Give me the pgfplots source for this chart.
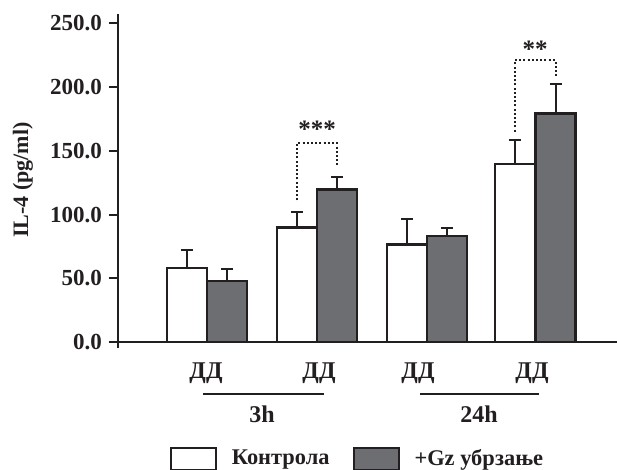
\documentclass[border=0pt]{standalone}
\usepackage{fontspec}
\setmainfont{Liberation Serif}
\usepackage{pgfplots}
\pgfplotsset{compat=1.18}
\definecolor{barblack}{RGB}{35,31,32}
\definecolor{bargray}{RGB}{109,110,113}
\pgfplotsset{boxlegend/.style={legend image code/.code={\draw[##1, line width=1pt] (0pt,-5.5pt) rectangle (22.5pt,5.5pt);}}}
\begin{document}
\begin{tikzpicture}
\path[use as bounding box] (-59pt,-64pt) rectangle (249.5pt,171pt);
\begin{axis}[
  scale only axis, width=249.5pt, height=164pt,
  xmin=118, xmax=617, ymin=0, ymax=257.3,
  axis x line*=bottom, axis y line*=left,
  axis line style={barblack, line width=1pt, -},
  ytick={0,50,...,250},
  yticklabel style={/pgf/number format/fixed, /pgf/number format/fixed zerofill, /pgf/number format/precision=1, /pgf/number format/assume math mode=true, font=\fontsize{11.5}{13}\selectfont\bfseries, text=barblack},
  ytick style={barblack, line width=1pt},
  tick align=outside, major tick length=4.5pt,
  xtick={206,319,418,532}, xticklabels={ДД,ДД,ДД,ДД},
  xtick style={draw=none},
  xticklabel style={font=\fontsize{12}{14}\selectfont\bfseries, anchor=base, yshift=-14pt, text=barblack},
  ylabel={IL-4 (pg/ml)},
  ylabel style={font=\fontsize{11}{13}\selectfont\bfseries, at={(rel axis cs:0,0.4936)}, anchor=center, rotate=0, text=barblack},
  every axis y label/.append style={yshift=47.5pt},
  ybar, bar shift=0pt, bar width=40,
  clip=false,
  legend columns=2,
  legend style={draw=none, fill=none, at={(axis cs:170,-91.7)}, anchor=west, inner sep=0pt, font=\fontsize{11.2}{13}\selectfont\bfseries, text=barblack,
    /tikz/every odd column/.append style={column sep=5.25pt},
    /tikz/every even column/.append style={column sep=9.75pt}},
]
\addplot[fill=white, draw=barblack, line width=1.3pt, boxlegend,
  error bars/.cd, y dir=plus, y explicit,
  error bar style={line width=1pt, barblack},
  error mark options={rotate=90, mark size=3pt, line width=1pt, barblack}]
  coordinates {(187,58.2) +- (0,14.1) (297,89.6) +- (0,12.5) (407,76.5) +- (0,19.9) (515,139.7) +- (0,18.6)};
\addplot[fill=bargray, draw=barblack, line width=1.3pt, boxlegend,
  error bars/.cd, y dir=plus, y explicit,
  error bar style={line width=1pt, barblack},
  error mark options={rotate=90, mark size=3pt, line width=1pt, barblack}]
  coordinates {(227,48.0) +- (0,9.4) (337,119.4) +- (0,10.2) (447,83.3) +- (0,6.3) (555.5,179.2) +- (0,23.2)};
\legend{Контрола, +Gz убрзање}
% axis extension below zero
\draw[barblack, line width=1pt] (axis cs:118,0) -- ([yshift=-3pt]axis cs:118,0);
% significance brackets
\draw[barblack, line width=1pt, dash pattern=on 1pt off 1.1pt] (axis cs:297,111) -- (axis cs:297,156) -- (axis cs:337,156) -- (axis cs:337,139);
\node[font=\fontsize{12.5}{14}\selectfont\bfseries, text=barblack] at (axis cs:317,167) {***};
\draw[barblack, line width=1pt, dash pattern=on 1pt off 1.1pt] (axis cs:515,165) -- (axis cs:515,221) -- (axis cs:555.5,221) -- (axis cs:555.5,209);
\node[font=\fontsize{12.5}{14}\selectfont\bfseries, text=barblack] at (axis cs:535,229.5) {**};
% group lines
\draw[barblack, line width=1pt] (axis cs:203,-40.7) -- (axis cs:324,-40.7);
\draw[barblack, line width=1pt] (axis cs:420,-40.7) -- (axis cs:539,-40.7);
\node[font=\fontsize{12}{14}\selectfont\bfseries, anchor=base, text=barblack] at (axis cs:262,-63.2) {3h};
\node[font=\fontsize{12}{14}\selectfont\bfseries, anchor=base, text=barblack] at (axis cs:479,-63.2) {24h};
\end{axis}
\end{tikzpicture}
\end{document}
